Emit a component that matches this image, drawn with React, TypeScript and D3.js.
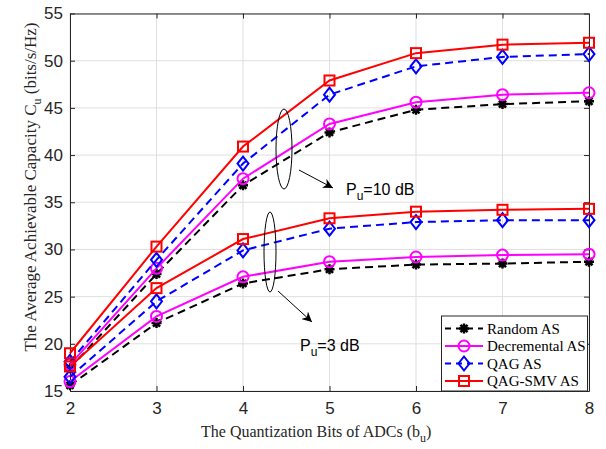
import React, { useEffect, useRef } from 'react';
import * as d3 from 'd3';

const bits = [2, 3, 4, 5, 6, 7, 8];
// Pu = 10 dB
const random10 = [17.4, 27.4, 36.8, 42.4, 44.8, 45.4, 45.7];
const decremental10 = [17.8, 28.0, 37.5, 43.3, 45.6, 46.4, 46.6];
const qag10 = [18.1, 28.9, 39.1, 46.4, 49.4, 50.4, 50.7];
const qagSmv10 = [19.0, 30.3, 40.9, 47.9, 50.8, 51.7, 51.9];
// Pu = 3 dB
const random3 = [15.6, 22.2, 26.4, 27.9, 28.4, 28.5, 28.7];
const decremental3 = [16.0, 22.9, 27.1, 28.7, 29.2, 29.4, 29.5];
const qag3 = [16.5, 24.5, 29.9, 32.2, 32.9, 33.1, 33.1];
const qagSmv3 = [17.6, 25.9, 31.1, 33.3, 34.0, 34.2, 34.3];

const yTicks = [15, 20, 25, 30, 35, 40, 45, 50, 55];
const legendNames = ['Random AS', 'Decremental AS', 'QAG AS', 'QAG-SMV AS'];

const styles = [
  { color: '#000000', dash: '8,5', marker: 'star' },
  { color: '#ff00ff', dash: null, marker: 'circle' },
  { color: '#0000ff', dash: '8,5', marker: 'diamond' },
  { color: '#ff0000', dash: null, marker: 'square' },
];

function drawMarker(g, type, x, y, color) {
  if (type === 'circle') {
    g.append('circle').attr('cx', x).attr('cy', y).attr('r', 5.5)
      .attr('fill', 'none').attr('stroke', color).attr('stroke-width', 2);
  } else if (type === 'square') {
    g.append('rect').attr('x', x - 5).attr('y', y - 5).attr('width', 10).attr('height', 10)
      .attr('fill', 'none').attr('stroke', color).attr('stroke-width', 2);
  } else if (type === 'diamond') {
    g.append('path').attr('d', `M${x},${y - 7}L${x + 5.5},${y}L${x},${y + 7}L${x - 5.5},${y}Z`)
      .attr('fill', 'none').attr('stroke', color).attr('stroke-width', 2);
  } else {
    const r = 5;
    let d = '';
    for (let k = 0; k < 4; k++) {
      const a = (k * Math.PI) / 4;
      d += `M${x - r * Math.cos(a)},${y - r * Math.sin(a)}L${x + r * Math.cos(a)},${y + r * Math.sin(a)}`;
    }
    g.append('path').attr('d', d).attr('stroke', color).attr('stroke-width', 2.5).attr('fill', 'none');
    g.append('circle').attr('cx', x).attr('cy', y).attr('r', 2.5).attr('fill', color);
  }
}

function CapacityChart() {
  const svgRef = useRef(null);

  useEffect(() => {
    if (!svgRef.current) return;
    const svg = d3.select(svgRef.current);
    svg.selectAll('*').remove();

    const left = 70, right = 589, top = 13.5, bottom = 391;
    const xScale = d3.scaleLinear().domain([2, 8]).range([left, right]);
    const yScale = d3.scaleLinear().domain([15, 55]).range([bottom, top]);

    // grid
    const grid = svg.append('g').attr('stroke', '#dfdfdf').attr('stroke-width', 1);
    bits.forEach(b => {
      grid.append('line').attr('x1', xScale(b)).attr('x2', xScale(b)).attr('y1', top).attr('y2', bottom);
    });
    yTicks.forEach(t => {
      grid.append('line').attr('x1', left).attr('x2', right).attr('y1', yScale(t)).attr('y2', yScale(t));
    });

    // axes with ticks on all four sides
    const tickLen = 5;
    svg.append('g').attr('transform', `translate(0,${bottom})`)
      .call(d3.axisBottom(xScale).tickValues(bits).tickFormat(d3.format('d'))
        .tickSizeInner(-tickLen).tickSizeOuter(0).tickPadding(11));
    svg.append('g').attr('transform', `translate(${left},0)`)
      .call(d3.axisLeft(yScale).tickValues(yTicks).tickFormat(d3.format('d'))
        .tickSizeInner(-tickLen).tickSizeOuter(0).tickPadding(7));
    svg.append('g').attr('transform', `translate(0,${top})`)
      .call(d3.axisTop(xScale).tickValues(bits).tickSizeInner(-tickLen).tickSizeOuter(0).tickFormat(() => ''));
    svg.append('g').attr('transform', `translate(${right},0)`)
      .call(d3.axisRight(yScale).tickValues(yTicks).tickSizeInner(-tickLen).tickSizeOuter(0).tickFormat(() => ''));
    svg.selectAll('.domain').attr('stroke', '#262626');
    svg.selectAll('.tick line').attr('stroke', '#262626');
    svg.selectAll('.tick text').attr('font-family', 'Liberation Sans, Arial, sans-serif')
      .attr('font-size', 17).attr('fill', '#262626');

    const line = d3.line()
      .x((d, i) => xScale(bits[i]))
      .y(d => yScale(d));

    const groups = [
      [random10, decremental10, qag10, qagSmv10],
      [random3, decremental3, qag3, qagSmv3],
    ];
    for (let s = 0; s < 4; s++) {
      groups.forEach(series => {
        const st = styles[s];
        svg.append('path').datum(series[s])
          .attr('fill', 'none').attr('stroke', st.color).attr('stroke-width', 2)
          .attr('stroke-dasharray', st.dash).attr('d', line);
        const mg = svg.append('g');
        series[s].forEach((v, i) => drawMarker(mg, st.marker, xScale(bits[i]), yScale(v), st.color));
      });
    }

    // annotations
    const ann = svg.append('g');
    ann.append('defs').append('marker').attr('id', 'arrowHead')
      .attr('viewBox', '0 0 10 10').attr('refX', 10).attr('refY', 5)
      .attr('markerWidth', 10).attr('markerHeight', 10).attr('markerUnits', 'userSpaceOnUse').attr('orient', 'auto')
      .append('path').attr('d', 'M0,0L10,5L0,10L3,5Z').attr('fill', '#000');
    ann.append('ellipse').attr('cx', 284).attr('cy', 149).attr('rx', 8).attr('ry', 40)
      .attr('fill', 'none').attr('stroke', '#000').attr('stroke-width', 1);
    ann.append('line').attr('x1', 299).attr('y1', 170).attr('x2', 333).attr('y2', 188)
      .attr('stroke', '#000').attr('stroke-width', 1).attr('marker-end', 'url(#arrowHead)');
    ann.append('ellipse').attr('cx', 270).attr('cy', 252).attr('rx', 6).attr('ry', 40)
      .attr('fill', 'none').attr('stroke', '#000').attr('stroke-width', 1);
    ann.append('line').attr('x1', 278).attr('y1', 291).attr('x2', 312).attr('y2', 322)
      .attr('stroke', '#000').attr('stroke-width', 1).attr('marker-end', 'url(#arrowHead)');

    const annText = (x, y, rest) => {
      const t = ann.append('text').attr('x', x).attr('y', y)
        .attr('font-family', 'Liberation Sans, Arial, sans-serif').attr('font-size', 16).attr('fill', '#000');
      t.append('tspan').text('P');
      t.append('tspan').attr('dy', 5).attr('font-size', 12).text('u');
      t.append('tspan').attr('dy', -5).text(rest);
    };
    annText(346, 195, '=10 dB');
    annText(300, 351, '=3 dB');

    // axis labels
    const xl = svg.append('text').attr('x', 201).attr('y', 437)
      .attr('font-family', 'Liberation Serif, Times New Roman, serif').attr('font-size', 16).attr('fill', '#262626');
    xl.append('tspan').text('The Quantization Bits of ADCs (b');
    xl.append('tspan').attr('dy', 5).attr('font-size', 12).text('u');
    xl.append('tspan').attr('dy', -5).text(')');

    const yl = svg.append('text').attr('transform', 'translate(36,187) rotate(-90)')
      .attr('text-anchor', 'middle')
      .attr('font-family', 'Liberation Serif, Times New Roman, serif').attr('font-size', 17).attr('fill', '#262626');
    yl.append('tspan').text('The Average Achievable Capacity C');
    yl.append('tspan').attr('dy', 5).attr('font-size', 12).text('u');
    yl.append('tspan').attr('dy', -5).text('  (bits/s/Hz)');

    // legend
    const lg = svg.append('g');
    lg.append('rect').attr('x', 441.5).attr('y', 316).attr('width', 146).attr('height', 75)
      .attr('fill', '#fff').attr('stroke', '#262626').attr('stroke-width', 1);
    legendNames.forEach((name, i) => {
      const st = styles[i];
      const ly = 328.5 + i * 17.5;
      lg.append('line').attr('x1', 445).attr('x2', 483).attr('y1', ly).attr('y2', ly)
        .attr('stroke', st.color).attr('stroke-width', 2).attr('stroke-dasharray', st.dash ? '6,5' : null);
      drawMarker(lg, st.marker, 464, ly, st.color);
      lg.append('text').attr('x', 487).attr('y', ly + 5)
        .attr('font-family', 'Liberation Serif, Times New Roman, serif').attr('font-size', 15).attr('fill', '#000')
        .text(name);
    });
  }, []);

  return <svg ref={svgRef} width={606} height={449} style={{ position: 'absolute', left: 0, top: 0, background: '#fff' }} />;
}

export default function App() {
  return <CapacityChart />;
}
